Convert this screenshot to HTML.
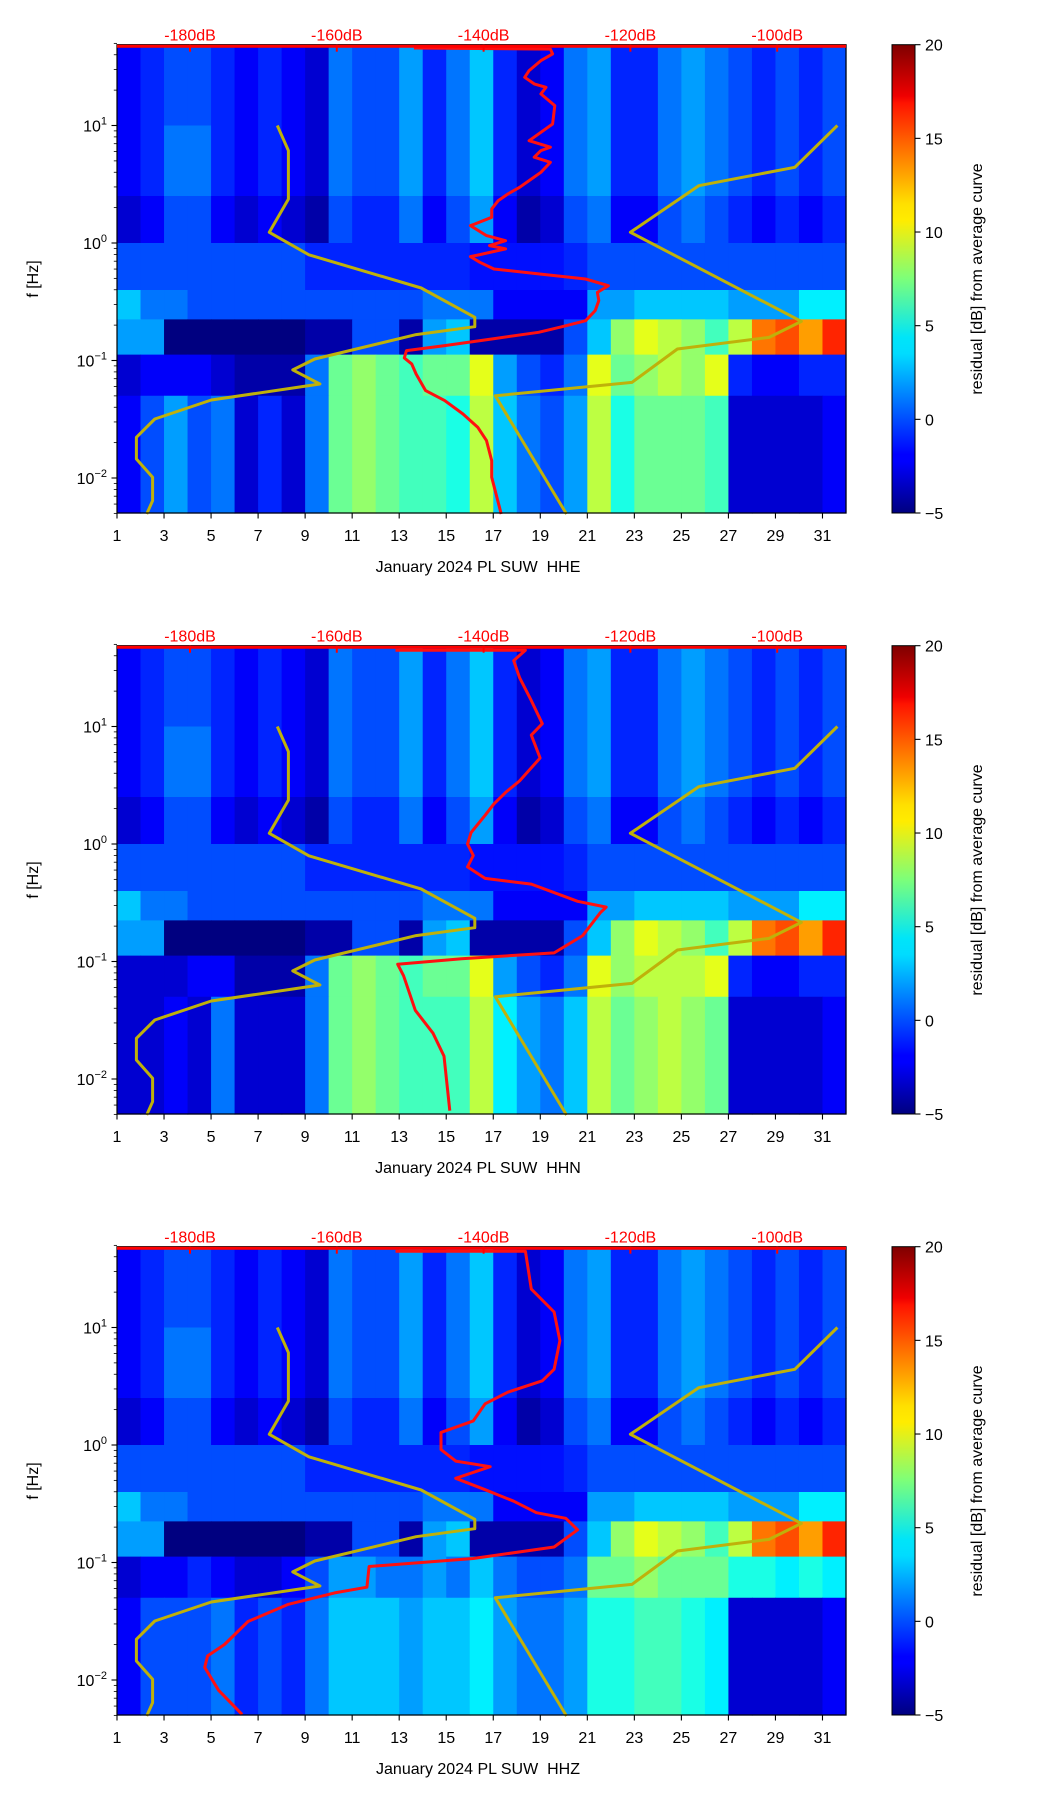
<!DOCTYPE html>
<html><head><meta charset="utf-8"><style>
html,body{margin:0;padding:0;background:#fff;}
#wrap{position:relative;width:1052px;height:1806px;overflow:hidden;}
svg text{font-family:"Liberation Sans","DejaVu Sans",sans-serif;}
</style></head><body>
<div id="wrap">
<svg id="fig" width="1052" height="1806" viewBox="0 0 1052 1806" xmlns="http://www.w3.org/2000/svg">
<defs>
<linearGradient id="jet" x1="0" y1="1" x2="0" y2="0">
<stop offset="0" stop-color="#00007f"/><stop offset="0.11" stop-color="#0000ff"/>
<stop offset="0.125" stop-color="#0000ff"/><stop offset="0.34" stop-color="#00dcff"/>
<stop offset="0.375" stop-color="#00e5f8"/><stop offset="0.5" stop-color="#7cff7a"/>
<stop offset="0.625" stop-color="#ffec00"/><stop offset="0.66" stop-color="#ffe000"/>
<stop offset="0.875" stop-color="#ff1400"/><stop offset="0.89" stop-color="#f00000"/>
<stop offset="1" stop-color="#7f0000"/>
</linearGradient>
</defs>
</svg>
</div>
<script>
// ---- data ----
const bandEdges = [1.7, 1.0, 0.4, 0, -0.4, -0.65, -0.95, -1.3, -2.31]; // log10 f band boundaries
const days = [1,2,3,4,5,6,7,8,9,10,11,12,13,14,15,16,17,18,19,20,21,22,23,24,25,26,27,28,29,30,31];
const bandHigh = [-2,-1,0,0,-1,-2,-1,-2,-3,1,0,0,2,-1,1,3,-1,-3,-2,1,2,-1,-1,1,2,1,0,-1,0,-1,0];
const bandMid  = [-2,-1,1,1,-1,-2,-1,-2,-3,1,0,0,2,-1,1,3,-1,-3,-2,1,2,-1,-1,1,2,1,0,-1,0,-1,0];
const bandLow1 = [-3,-2,0,0,-2,-3,-2,-3,-4,0,-1,-1,1,-2,0,2,-2,-4,-3,0,1,-2,-2,0,1,0,-1,-2,-1,-2,-1];
const bandMicro= [0,0,0,0,0,0,0,0,-1,-1,-1,-1,-1,-1,-1,-1.5,-1.5,-1.5,-1.5,-1,0,0,0,0,0,0,0,0,0,0,0];
const bandMs1  = [3,1,1,0,0,0,0,0,0,0,0,0,0,1,1,1,-2,-2,-2,-2,2,2,3,3,3,3,2,2,2,4,4];
const bandMs2  = [2,2,-5,-5,-5,-5,-5,-5,-4,-4,0,0,-4,2,3,-4,-4,-4,-4,0,3,8,10,9,8,6,9,14,15,13,16];
const p1Band6 = [-3,-2,-2,-2,-3,-4,-4,-4,1,7,8,7,6,7,7,10,2,0,-1,1,10,7,8,9,8,10,-1,-2,-2,-1,-1];
const p1Band7 = [-2,0,2,0,1,-3,-1,-3,1,7,8,7,6,6,5,9,3,1,0,2,9,5,7,7,7,6,-3,-3,-3,-3,-2];
const p2Band6 = [-3,-3,-3,-2,-2,-4,-4,-4,1,7,8,7,6,7,7,10,2,0,-1,1,10,8,9,9,9,10,-1,-2,-2,-1,-1];
const p2Band7 = [-3,-3,-2,-3,1,-3,-3,-3,1,7,8,7,6,6,6,9,4,2,1,3,9,7,8,9,8,7,-3,-3,-3,-3,-2];
const p3Band6 = [-3,-2,-2,-1,-2,-3,-3,-2,0,2,2,1,1,2,1,3,1,0,0,1,7,7,8,7,7,7,5,5,4,5,4];
const p3Band7 = [-2,0,0,0,1,-1,0,-1,1,3,3,3,2,3,3,4,2,1,1,2,5,5,6,6,5,4,-3,-3,-3,-3,-2];
// NLNM / NHNM (dB, log10 f)
const nlnmDb = [-168.1,-166.6,-166.6,-169.2,-163.8,-148.5,-141.2,-141.2,-149.2,-163,-166,-162.3,-177.1,-184.8,-187.3,-187.3,-185.1,-185.1,-185.9];
const nlnmLf = [1.0,0.786,0.374,0.091,-0.1,-0.383,-0.632,-0.712,-0.78,-0.987,-1.08,-1.2,-1.336,-1.498,-1.654,-1.838,-1.994,-2.193,-2.306];
const nhnmDb = [-91.8,-97.6,-110.7,-120,-96.7,-101.1,-113.6,-119.8,-138.4,-128.7];
const nhnmLf = [1.0,0.644,0.488,0.091,-0.667,-0.803,-0.902,-1.186,-1.3,-2.306];
// average PSD curves per channel
const heDb = [-149.5,-130.9,-130.6,-132.2,-133.8,-134.4,-133.1,-131.5,-132.2,-130.3,-130.6,-133.8,-130.9,-132.2,-133.1,-130.9,-132.2,-133.8,-135.1,-136.7,-138.0,-138.9,-138.9,-141.2,-141.8,-139.6,-137.0,-139.2,-137.0,-140.5,-141.8,-140.5,-138.6,-132.5,-126.1,-123.0,-124.5,-124.3,-124.8,-126.1,-129.3,-132.5,-138.9,-145.3,-150.5,-150.8,-149.8,-149.2,-147.9,-145.3,-142.8,-140.8,-139.6,-138.9,-138.9,-137.6];
const heLf = [1.66,1.65,1.609,1.552,1.467,1.41,1.354,1.325,1.269,1.169,1.013,0.871,0.815,0.786,0.73,0.687,0.602,0.531,0.474,0.417,0.361,0.29,0.219,0.162,0.148,0.063,0.02,-0.022,-0.05,-0.099,-0.116,-0.164,-0.221,-0.263,-0.306,-0.363,-0.42,-0.49,-0.575,-0.661,-0.712,-0.76,-0.817,-0.873,-0.916,-0.978,-1.029,-1.115,-1.256,-1.341,-1.455,-1.568,-1.682,-1.852,-1.994,-2.306];
const hnDb = [-152.0,-134.3,-135.9,-135.1,-133.5,-132.0,-133.5,-132.3,-135.1,-137.0,-138.6,-139.8,-141.7,-142.2,-141.4,-142.2,-139.8,-133.5,-127.2,-123.3,-124.1,-126.5,-130.4,-143.0,-151.7,-150.9,-149.3,-146.9,-145.4,-144.6];
const hnLf = [1.649,1.649,1.561,1.415,1.22,1.024,0.927,0.732,0.537,0.439,0.341,0.244,0.098,0,-0.098,-0.195,-0.293,-0.341,-0.488,-0.537,-0.585,-0.78,-0.927,-0.976,-1.024,-1.122,-1.415,-1.61,-1.805,-2.27];
const hzDb = [-152.0,-134.3,-133.5,-130.4,-129.6,-130.4,-132.0,-136.7,-139.8,-141.4,-145.8,-145.8,-143.8,-139.1,-143.8,-139.8,-135.9,-132.8,-128.8,-127.2,-130.4,-141.4,-155.6,-155.9,-160.3,-166.6,-172.1,-175.3,-177.6,-178.0,-176.1,-172.9];
const hzLf = [1.649,1.649,1.327,1.132,0.888,0.644,0.546,0.449,0.351,0.205,0.107,-0.039,-0.137,-0.185,-0.283,-0.38,-0.478,-0.576,-0.624,-0.722,-0.868,-0.966,-1.034,-1.21,-1.259,-1.356,-1.502,-1.698,-1.795,-1.893,-2.088,-2.293];
const xTicks = [1,3,5,7,9,11,13,15,17,19,21,23,25,27,29,31];
const yTickExp = [-2,-1,0,1];
const dbTicks = [-180,-160,-140,-120,-100];
const cbTicks = [20,15,10,5,0,-5];
const channels = ['HHE','HHN','HHZ'];

// ---- geometry ----
const L=117, R=846, PT=44.7, PB=513, PSTEP=601;
const CBL=892, CBR=915;
function xDay(d){return L+(d-1)*(R-L)/31;}
function yLf(lf,oy){return oy+243-lf*117.5;}
function xDb(db){return 190+(db+180)*7.34;}
function cbY(v,oy){return oy+PB-(v+5)/25*(PB-PT);}
function jet(v){
  let t=Math.max(0,Math.min(1,(v+5)/25));
  function c(x){return Math.max(0,Math.min(1,x));}
  let r=c(Math.min(4*t-1.5,-4*t+4.5)), g=c(Math.min(4*t-0.5,-4*t+3.5)), b=c(Math.min(4*t+0.5,-4*t+2.5));
  return 'rgb('+Math.round(r*255)+','+Math.round(g*255)+','+Math.round(b*255)+')';
}
const NS='http://www.w3.org/2000/svg';
const svg=document.getElementById('fig');
function mk(tag,attrs,parent){const e=document.createElementNS(NS,tag);for(const k in attrs)e.setAttribute(k,attrs[k]);(parent||svg).appendChild(e);return e;}
function txt(s,attrs,parent){const e=mk('text',attrs,parent);e.textContent=s;return e;}

const panelBands=[
 [bandHigh,bandMid,bandLow1,bandMicro,bandMs1,bandMs2,p1Band6,p1Band7],
 [bandHigh,bandMid,bandLow1,bandMicro,bandMs1,bandMs2,p2Band6,p2Band7],
 [bandHigh,bandMid,bandLow1,bandMicro,bandMs1,bandMs2,p3Band6,p3Band7]];
const curves=[[heDb,heLf],[hnDb,hnLf],[hzDb,hzLf]];

for(let p=0;p<3;p++){
  const oy=p*PSTEP;
  const g=mk('g',{});
  
  
  const hm=mk('g',{},g);
  
  
  const bands=panelBands[p];
  for(let b=0;b<bands.length;b++){
    const y0=Math.max(PT+oy,yLf(bandEdges[b],oy)), y1=Math.min(PB+oy,yLf(bandEdges[b+1],oy));
    for(let i=0;i<days.length;i++){
      const x0=xDay(days[i]), x1=xDay(days[i]+1);
      const r=mk('rect',{x:x0,y:y0,width:x1-x0+0.6,height:y1-y0+0.6,fill:jet(bands[b][i])},hm);
      
      
    }
  }
  function poly(dbs,lfs,color,w,name){
    let pts=dbs.map((d,i)=>xDb(d).toFixed(1)+','+yLf(lfs[i],oy).toFixed(1)).join(' ');
    const pl=mk('polyline',{points:pts,fill:'none',stroke:color,'stroke-width':w,'stroke-linejoin':'round'},g);
    
    
  }
  poly(nlnmDb,nlnmLf,'#bfb10a',3,'nlnm-curve');
  poly(nhnmDb,nhnmLf,'#bfb10a',3,'nhnm-curve');
  poly(curves[p][0],curves[p][1],'#ff1010',3,'average-psd-curve');
  const fr=mk('rect',{x:L,y:PT+oy,width:R-L,height:PB-PT,fill:'none',stroke:'#000','stroke-width':1.2},g);
  
  
  const ts=mk('line',{x1:L,x2:R,y1:PT+oy+1.5,y2:PT+oy+1.5,stroke:'#ff0000','stroke-width':3},g);
  
  
  xTicks.forEach(d=>{
    const x=xDay(d);
    mk('line',{x1:x,x2:x,y1:PB+oy,y2:PB+oy+5.5,stroke:'#000','stroke-width':1.1},g);
    const t=txt(String(d),{x:x,y:PB+oy+28,'font-size':16,'text-anchor':'middle',fill:'#000'},g);
    
    
  });
  yTickExp.forEach(e=>{
    const y=yLf(e,oy);
    mk('line',{x1:L-5.5,x2:L,y1:y,y2:y,stroke:'#000','stroke-width':1.1},g);
    const t=txt('',{x:L-10,y:y+6,'font-size':16,'text-anchor':'end',fill:'#000'},g);
    
    
    const a=mk('tspan',{},t);a.textContent='10';
    const s=mk('tspan',{dy:-7,'font-size':11},t);s.textContent=(e<0?'\u2212':'')+Math.abs(e);
  });
  for(let e=-3;e<=1;e++){for(let m=2;m<=9;m++){
    const lf=e+Math.log10(m); if(lf<-2.31||lf>1.7) continue;
    const y=yLf(lf,oy);
    mk('line',{x1:L-3.2,x2:L,y1:y,y2:y,stroke:'#000','stroke-width':0.8},g);
  }}
  dbTicks.forEach(db=>{
    const x=xDb(db);
    mk('line',{x1:x,x2:x,y1:PT+oy,y2:PT+oy+7,stroke:'#ff0000','stroke-width':2},g);
    const t=txt(db+'dB',{x:x,y:PT+oy-4,'font-size':16,'text-anchor':'middle',fill:'#ff0000'},g);
    
    
  });
  const xl=txt('January 2024 PL SUW  '+channels[p],{x:478,y:572+oy,'font-size':16,'text-anchor':'middle',fill:'#000'},g);
  
  
  xl.style.whiteSpace='pre';
  const yl=txt('f [Hz]',{x:0,y:0,'font-size':16,'text-anchor':'middle',fill:'#000',transform:'translate(38,'+(279+oy)+') rotate(-90)'},g);
  
  
  const cb=mk('rect',{x:CBL,y:PT+oy,width:CBR-CBL,height:PB-PT,fill:'url(#jet)',stroke:'#000','stroke-width':1},g);
  
  
  cbTicks.forEach(v=>{
    const y=cbY(v,oy);
    mk('line',{x1:CBR,x2:CBR+5.5,y1:y,y2:y,stroke:'#000','stroke-width':1.1},g);
    const t=txt(v<0?'\u2212'+Math.abs(v):String(v),{x:CBR+10,y:y+6,'font-size':16,fill:'#000'},g);
    
    
  });
  const cl=txt('residual [dB] from average curve',{x:0,y:0,'font-size':16,'text-anchor':'middle',fill:'#000',transform:'translate(982,'+(279+oy)+') rotate(-90)'},g);
  
  
}
</script>
</body></html>
